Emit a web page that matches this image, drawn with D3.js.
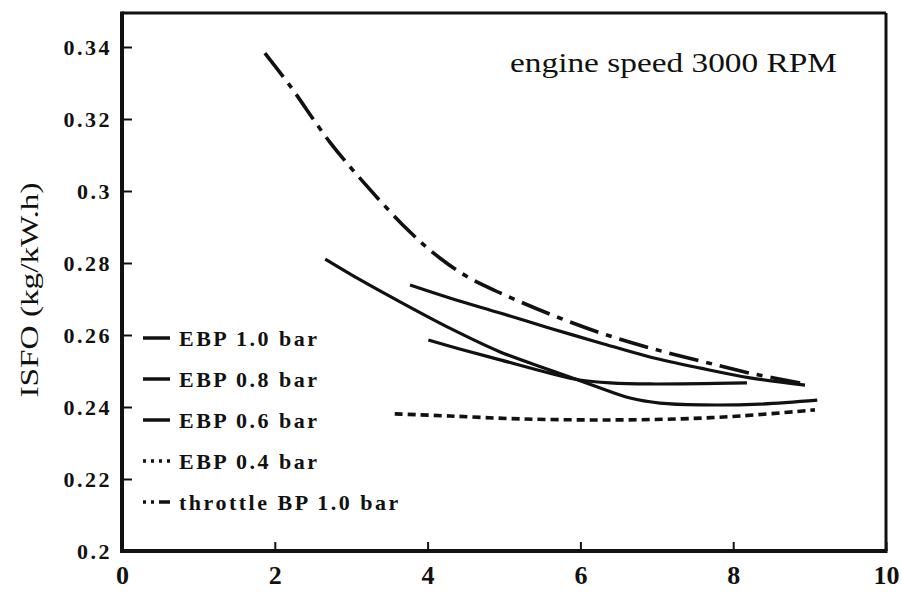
<!DOCTYPE html>
<html><head><meta charset="utf-8">
<script src="https://cdn.jsdelivr.net/npm/d3@7"></script>
<style>body{margin:0;background:#fff}</style>
</head><body>
<svg id="chart" width="902" height="593"></svg>
<script>
// ---- data ----
const xTicks = [0, 2, 4, 6, 8, 10];
const yTicks = [0.2, 0.22, 0.24, 0.26, 0.28, 0.3, 0.32, 0.34];
const yTickLabels = ["0.2", "0.22", "0.24", "0.26", "0.28", "0.3", "0.32", "0.34"];
const seriesNames = ["EBP 1.0 bar", "EBP 0.8 bar", "EBP 0.6 bar", "EBP 0.4 bar", "throttle BP 1.0 bar"];
const chartTitle = "engine speed 3000 RPM";
const yTitle = "ISFO (kg/kW.h)";

const ebp10X = [3.77, 4.29, 4.95, 5.60, 6.26, 6.91, 7.57, 8.22, 8.94];
const ebp10Y = [0.2739, 0.2703, 0.2661, 0.2619, 0.2578, 0.2539, 0.2508, 0.2481, 0.2461];
const ebp08X = [4.01, 4.42, 4.95, 5.60, 5.99, 6.39, 6.91, 8.18];
const ebp08Y = [0.2586, 0.2561, 0.2531, 0.2494, 0.2475, 0.2467, 0.2464, 0.2467];
const ebp06X = [2.66, 3.12, 3.64, 4.29, 4.95, 5.60, 6.26, 6.65, 7.04, 7.57, 8.35, 9.10];
const ebp06Y = [0.2811, 0.2753, 0.2692, 0.2619, 0.2553, 0.2503, 0.2453, 0.2425, 0.2411, 0.2406, 0.2408, 0.2419];
const ebp04X = [3.57, 4.29, 5.21, 6.26, 7.30, 8.09, 9.07];
const ebp04Y = [0.2381, 0.2375, 0.2367, 0.2364, 0.2367, 0.2375, 0.2392];
const throttleX = [1.87, 2.20, 2.72, 3.25, 3.77, 4.16, 4.55, 4.95, 5.60, 6.26, 6.91, 7.57, 8.22, 8.94];
const throttleY = [0.3383, 0.3292, 0.3136, 0.3003, 0.2886, 0.2814, 0.2758, 0.2717, 0.2658, 0.2606, 0.2564, 0.2528, 0.2494, 0.2464];

// ---- layout / style ----
const L = 122, R = 886, T = 13, B = 551;
const ink = "#111";
const serif = "'Liberation Serif', 'Times New Roman', Times, serif";
const curveDash = ["none", "none", "none", "8,5", "30,8,6,8"];
const legendDash = ["none", "none", "none", "3,5", "3,5,3,5,14"];

const svg = d3.select("#chart");
const x = d3.scaleLinear().domain([0, 10]).range([L, R]);
const y = d3.scaleLinear().domain([0.2, 0.34]).range([B, 47]);

const series = [
  [ebp10X, ebp10Y], [ebp08X, ebp08Y], [ebp06X, ebp06Y], [ebp04X, ebp04Y], [throttleX, throttleY]
].map(([xs, ys], i) => ({ name: seriesNames[i], pts: xs.map((v, j) => [v, ys[j]]), i }));

// axes
const yAxis = d3.axisLeft(y).tickValues(yTicks).tickSize(-10).tickPadding(10)
  .tickFormat((d, i) => yTickLabels[i]);
const gy = svg.append("g").attr("transform", `translate(${L},0)`).call(yAxis);
gy.select(".domain").remove();
gy.selectAll("line").attr("stroke", ink).attr("stroke-width", 2);
gy.selectAll("text").attr("fill", ink)
  .style("font-family", serif).style("font-weight", "bold")
  .style("font-size", "22px").style("letter-spacing", "2.5px");

const xAxis = d3.axisBottom(x).tickValues(xTicks).tickSize(-9).tickPadding(15)
  .tickFormat(d3.format("d"));
const gx = svg.append("g").attr("transform", `translate(0,${B})`).call(xAxis);
gx.select(".domain").remove();
gx.selectAll("line").attr("stroke", ink).attr("stroke-width", 2);
gx.selectAll("text").attr("fill", ink)
  .style("font-family", serif).style("font-weight", "bold")
  .style("font-size", "26px");

// frame
svg.append("line").attr("x1", L).attr("x2", R).attr("y1", T).attr("y2", T)
  .attr("stroke", ink).attr("stroke-width", 3);
svg.append("line").attr("x1", R).attr("x2", R).attr("y1", T).attr("y2", B)
  .attr("stroke", ink).attr("stroke-width", 3);
svg.append("line").attr("x1", L).attr("x2", L).attr("y1", T - 1.5).attr("y2", B + 2)
  .attr("stroke", ink).attr("stroke-width", 4);
svg.append("line").attr("x1", L - 2).attr("x2", R + 1.5).attr("y1", B).attr("y2", B)
  .attr("stroke", ink).attr("stroke-width", 4);

// curves
const line = d3.line().x(d => x(d[0])).y(d => y(d[1])).curve(d3.curveCatmullRom.alpha(0.5));
svg.append("g").selectAll("path").data(series).join("path")
  .attr("d", d => line(d.pts))
  .attr("fill", "none").attr("stroke", ink)
  .attr("stroke-width", d => d.i >= 3 ? 3.6 : 3.2)
  .attr("stroke-linecap", "butt")
  .attr("stroke-dasharray", d => curveDash[d.i]);

// title
svg.append("text").attr("x", 510).attr("y", 72).text(chartTitle)
  .attr("fill", ink).attr("textLength", 327).attr("lengthAdjust", "spacingAndGlyphs")
  .style("font-family", serif).style("font-size", "28px");

// y title
svg.append("text").attr("transform", "translate(38,290) rotate(-90)")
  .attr("text-anchor", "middle").text(yTitle).attr("fill", ink)
  .attr("textLength", 215).attr("lengthAdjust", "spacingAndGlyphs")
  .style("font-family", serif).style("font-size", "25px");

// legend
const lg = svg.append("g");
const rowY = i => 338 + i * 41;
lg.selectAll("line").data(series).join("line")
  .attr("x1", 143).attr("x2", 170)
  .attr("y1", d => rowY(d.i)).attr("y2", d => rowY(d.i))
  .attr("stroke", ink).attr("stroke-width", 3.5)
  .attr("stroke-dasharray", d => legendDash[d.i]);
lg.selectAll("text").data(series).join("text")
  .attr("x", 179).attr("y", d => rowY(d.i) + 8).text(d => d.name)
  .attr("fill", ink)
  .style("font-family", serif).style("font-weight", "bold")
  .style("font-size", "22px").style("letter-spacing", "2.5px");
</script>
</body></html>
